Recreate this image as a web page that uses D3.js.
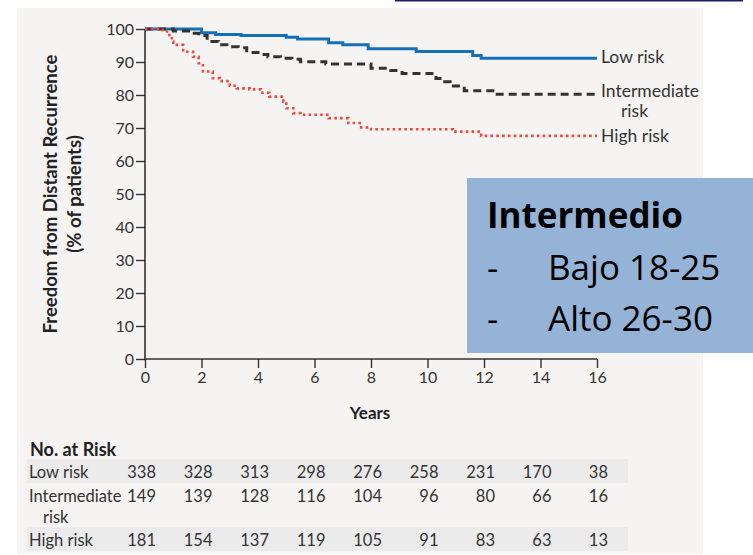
<!DOCTYPE html>
<html>
<head>
<meta charset="utf-8">
<script src="https://cdn.jsdelivr.net/npm/d3@7"></script>
<style>
  body { margin: 0; background: #fff; }
  svg { display: block; font-family: Lato, "Open Sans", sans-serif; }
</style>
</head>
<body>
<svg id="chart" width="753" height="555"></svg>
<script>
// Kaplan-Meier steps: [year, % free of distant recurrence]
const lowRisk = [[0, 100], [2.0, 98.9], [2.5, 98.3], [3.4, 98], [5.0, 97.5], [5.4, 97], [6.5, 95.8],
  [7.0, 95.2], [7.9, 94], [9.6, 93.2], [11.6, 92], [11.9, 91.1], [16, 91.1]];
const intermediateRisk = [[0, 100], [1.0, 99.4], [1.6, 98.7], [1.9, 98], [2.2, 96.2], [2.6, 95.2],
  [2.9, 94.6], [3.3, 94.3], [3.6, 92.9], [4.0, 92.3], [4.35, 91.6], [4.8, 91.1], [5.2, 90.8],
  [5.5, 90.1], [6.4, 89.4], [8.0, 88.1], [8.7, 87.4], [9.1, 86.5], [10.3, 85], [10.5, 84],
  [10.8, 82.7], [11.3, 81.3], [12.4, 80.2], [16, 80.2]];
const highRisk = [[0, 100], [0.6, 99.7], [0.78, 98.2], [0.95, 96.2], [1.0, 95.2], [1.35, 93.1],
  [1.7, 91.6], [1.9, 89.6], [2.05, 87.1], [2.4, 85.1], [2.65, 84.2], [3.0, 82.8], [3.25, 82],
  [3.7, 81.7], [4.1, 80.7], [4.4, 79.5], [4.9, 78], [5.0, 76], [5.25, 74.5], [5.5, 74],
  [6.5, 73], [7.2, 71.5], [7.6, 70.2], [8.0, 69.6], [10.9, 68.9], [11.9, 67.6], [16, 67.6]];

const xTicks = [0, 2, 4, 6, 8, 10, 12, 14, 16];
const yTicks = [0, 10, 20, 30, 40, 50, 60, 70, 80, 90, 100];

const riskGroups = ["Low risk", "Intermediate risk", "High risk"];
const atRiskLow = [338, 328, 313, 298, 276, 258, 231, 170, 38];
const atRiskIntermediate = [149, 139, 128, 116, 104, 96, 80, 66, 16];
const atRiskHigh = [181, 154, 137, 119, 105, 91, 83, 63, 13];

const boxTitle = "Intermedio";
const boxItems = ["Bajo 18-25", "Alto 26-30"];

const svg = d3.select("#chart");

// panel background + thin rule at the top
svg.append("rect").attr("x", 17).attr("y", 8).attr("width", 686).attr("height", 546).attr("fill", "#f5f4f2");
svg.append("line").attr("x1", 395).attr("x2", 743).attr("y1", 0.5).attr("y2", 0.5)
  .attr("stroke", "#1c1c6b").attr("stroke-width", 2);

const x = d3.scaleLinear().domain([0, 16]).range([145, 597]);
const y = d3.scaleLinear().domain([0, 100]).range([359, 29]);

const xAxis = d3.axisBottom(x).tickValues(xTicks).tickSize(9).tickPadding(4);
const yAxis = d3.axisLeft(y).tickValues(yTicks).tickSize(9).tickPadding(2);

const gx = svg.append("g").attr("transform", `translate(0,${y(0)})`).call(xAxis);
const gy = svg.append("g").attr("transform", `translate(${x(0)},0)`).call(yAxis);
[gx, gy].forEach(g => {
  g.select(".domain").attr("stroke", "#333").attr("stroke-width", 1.6);
  g.selectAll(".tick line").attr("stroke", "#333").attr("stroke-width", 1.4);
  g.selectAll(".tick text").attr("fill", "#333").style("font-size", "16px").style("font-family", "Lato, sans-serif");
});
gy.select(".domain").attr("d", `M0,${y(0)}V${y(100)}`);
gx.select(".domain").attr("d", `M${x(0)},0H${x(16)}`);

// axis titles
svg.append("text").attr("x", 370).attr("y", 419).attr("text-anchor", "middle")
  .attr("font-weight", "bold").attr("font-size", 17).attr("fill", "#222").text("Years");
const yt = svg.append("g").attr("transform", `translate(50,${(y(0) + y(100)) / 2}) rotate(-90)`);
yt.append("text").attr("y", 7).attr("text-anchor", "middle").attr("font-weight", "bold")
  .attr("font-size", 18.5).attr("fill", "#222").text("Freedom from Distant Recurrence");
yt.append("text").attr("y", 31).attr("text-anchor", "middle").attr("font-weight", "bold")
  .attr("font-size", 18.5).attr("fill", "#222").text("(% of patients)");

// curves
const line = d3.line().x(d => x(d[0])).y(d => y(d[1])).curve(d3.curveStepAfter);
svg.append("path").datum(lowRisk).attr("d", line).attr("fill", "none")
  .attr("stroke", "#1670b8").attr("stroke-width", 3);
svg.append("path").datum(intermediateRisk).attr("d", line).attr("fill", "none")
  .attr("stroke", "#333").attr("stroke-width", 3).attr("stroke-dasharray", "8,5");
svg.append("path").datum(highRisk).attr("d", line).attr("fill", "none")
  .attr("stroke", "#f0483a").attr("stroke-width", 2.6).attr("stroke-dasharray", "2.6,3.2");

// end-of-curve labels
const lab = svg.append("g").attr("font-size", 17.5).attr("fill", "#333");
lab.append("text").attr("x", x(16) + 4).attr("y", y(lowRisk.at(-1)[1]) + 5).text("Low risk");
lab.append("text").attr("x", x(16) + 4).attr("y", y(intermediateRisk.at(-1)[1]) + 3).text("Intermediate");
lab.append("text").attr("x", x(16) + 24).attr("y", y(intermediateRisk.at(-1)[1]) + 23).text("risk");
lab.append("text").attr("x", x(16) + 4).attr("y", y(highRisk.at(-1)[1]) + 6).text("High risk");

// number at risk table
svg.append("text").attr("x", 30).attr("y", 456).attr("font-weight", "bold")
  .attr("font-size", 18).attr("fill", "#222").text("No. at Risk");
const rows = [
  { name: riskGroups[0], counts: atRiskLow, base: 478, band: true },
  { name: riskGroups[1], counts: atRiskIntermediate, base: 502, band: false },
  { name: riskGroups[2], counts: atRiskHigh, base: 546, band: true }
];
rows.forEach(r => {
  if (r.band) svg.append("rect").attr("x", 27).attr("y", r.base - 19).attr("width", 601).attr("height", 24).attr("fill", "#ebebeb");
});
rows.forEach(r => {
  const g = svg.append("g").attr("font-size", 16.5).attr("fill", "#333");
  if (r.name === "Intermediate risk") {
    g.append("text").attr("x", 29).attr("y", r.base).text("Intermediate");
    g.append("text").attr("x", 43).attr("y", r.base + 21).text("risk");
  } else {
    g.append("text").attr("x", 29).attr("y", r.base).text(r.name);
  }
  g.selectAll(".n").data(r.counts).enter().append("text")
    .attr("x", (d, i) => x(xTicks[i]) + 11).attr("y", r.base).attr("text-anchor", "end").text(d => d);
});

// overlay note box
const box = svg.append("g").attr("font-family", "'Open Sans', sans-serif").attr("fill", "#000");
box.append("rect").attr("x", 467).attr("y", 178).attr("width", 286).attr("height", 175).attr("fill", "#95b3d7");
box.append("text").attr("x", 487).attr("y", 228).attr("font-weight", "bold").attr("font-size", 35).text(boxTitle);
boxItems.forEach((t, i) => {
  box.append("text").attr("x", 487).attr("y", 280 + i * 51).attr("font-size", 35).text("-");
  box.append("text").attr("x", 548).attr("y", 280 + i * 51).attr("font-size", 35).text(t);
});
</script>
</body>
</html>
